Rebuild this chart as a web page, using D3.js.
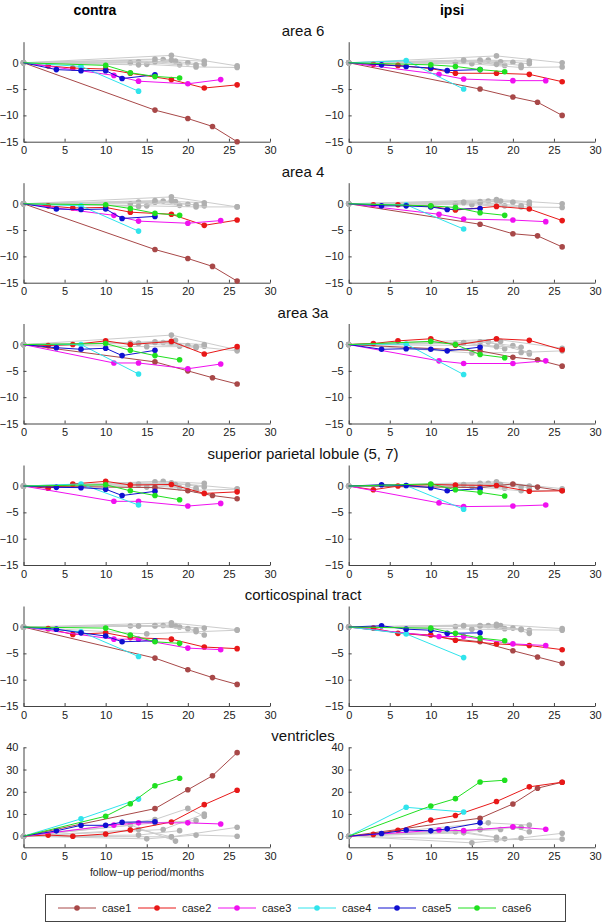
<!DOCTYPE html>
<html><head><meta charset="utf-8">
<script src="https://cdn.jsdelivr.net/npm/d3@7"></script>
<style>
html,body{margin:0;padding:0;background:#fff;}
svg{display:block;font-family:"Liberation Sans",Arial,sans-serif;}
</style></head>
<body>
<script>
// ---------- data ----------
const regions = ["area 6","area 4","area 3a","superior parietal lobule (5, 7)","corticospinal tract","ventricles"];
const sides = ["contra","ipsi"];
const caseNames = ["case1","case2","case3","case4","case5","case6"];
const caseMonths = [
  [0,16,20,23,26],
  [0,3,6,10,13,18,22,26],
  [0,11,14,20,24],
  [0,7,14],
  [0,4,7,10,12,16],
  [0,10,13,16,19]
];
const grayMonths = [[0,18,26],[0,17,22],[0,16,20,22],[0,14,19],[0,15,21,26],[0,13,18.5],[0,16,21],[0,14,18]];
const xTicks = [0,5,10,15,20,25,30];
const yTicksChange = [0,-5,-10,-15];
const yTicksVentricles = [0,10,20,30,40];

// case values per panel (case1..case6)
const area6_contra = [[0,-9,-10.6,-12.1,-15],[0,-0.6,-1,-1.2,-2,-3.2,-4.8,-4.2],[0,-2.4,-3.5,-4,-3.2],[0,-0.7,-5.4],[0,-1.3,-1.5,-1.5,-3,-2.3],[0,-0.5,-1.9,-2.6,-2.9]];
const area6_ipsi   = [[0,-5,-6.5,-7.5,-10],[0,-0.3,-0.5,-1.1,-2,-2,-2.2,-3.6],[0,-2.2,-3.1,-3.4,-3.4],[0,0.4,-5],[0,-0.4,-0.7,-1,-1.5,-1.3],[0,-0.4,-0.7,-1.3,-1.7]];
const area4_contra = [[0,-8.7,-10.4,-11.9,-14.7],[0,-0.4,-0.8,-0.7,-1.6,-2,-4.1,-3.1],[0,-2.2,-3.3,-3.7,-3.2],[0,-0.4,-5.2],[0,-1,-1.1,-1,-2.8,-2.4],[0,-0.2,-0.9,-1.8,-2.2]];
const area4_ipsi   = [[0,-3.9,-5.7,-6.1,-8.2],[0,-0.2,-0.2,-0.5,-1.2,-0.5,-1,-3.2],[0,-2,-2.9,-3.1,-3.4],[0,-0.2,-4.8],[0,-0.4,-0.4,-0.6,-1.1,-0.9],[0,-0.4,-0.7,-1.7,-2.2]];
const area3a_contra= [[0,-3.3,-5,-6.3,-7.5],[0,-0.2,0,0.7,0,0.6,-1.8,-0.4],[0,-3.5,-3.5,-4.6,-3.7],[0,0,-5.6],[0,-0.6,-0.9,-0.7,-2.1,-1.1],[0,0.2,-1.1,-2.1,-2.9]];
const area3a_ipsi  = [[0,-1.2,-2.4,-2.9,-4.1],[0,0.2,0.7,1.1,-0.1,1.1,0.8,-1],[0,-3.1,-3.6,-3.6,-3.1],[0,0.1,-5.7],[0,-0.9,-0.8,-0.9,-1.2,-0.5],[0,0.6,0,-1.9,-2.5]];
const spl_contra   = [[0,-0.3,-0.9,-1.8,-2.4],[0,-0.4,0.4,0.9,0.2,0.3,-1.4,-1.1],[0,-2.9,-2.9,-3.8,-3.3],[0,0.4,-3.6],[0,-0.25,-0.3,-0.6,-1.8,-1],[0,0.25,-0.9,-1.8,-2.6]];
const spl_ipsi     = [[0,-0.3,0.4,-0.2,-0.9],[0,-0.7,0,0.3,0.2,0.1,-1,-0.9],[0,-3.2,-3.9,-3.8,-3.6],[0,0.1,-4.4],[0,0.25,0.1,-0.3,-0.9,-0.5],[0,0.4,-0.7,-1.2,-1.9]];
const cst_contra   = [[0,-5.9,-8.1,-9.6,-10.9],[0,-0.3,-1.4,-1.1,-2,-2.3,-3.8,-4.1],[0,-2.3,-2.3,-4,-4.3],[0,-0.9,-5.6],[0,-0.4,-1.1,-1.7,-2.8,-2.6],[0,-0.2,-1.5,-2.8,-3.1]];
const cst_ipsi     = [[0,-2.8,-4.5,-5.7,-6.9],[0,-0.2,-1.2,-1.5,-2.5,-3.2,-3.5,-4.3],[0,-1.8,-1.8,-3.2,-3.5],[0,-1.3,-5.8],[0,0.25,-0.4,-0.6,-1.2,-1.1],[0,-0.2,-1.2,-2.1,-2.6]];
const vent_contra  = [[0,12.4,20.9,27.2,37.6],[0,0.5,0,1,2.8,6.4,14.2,20.7],[0,5,6,6,5.5],[0,7.8,16.7],[0,2.4,4.9,4.9,6.3,6.5],[0,9,14.6,22.7,26.1]];
const vent_ipsi    = [[0,8.1,14.5,21.6,24.3],[0,0.8,2.7,7.3,9.3,15.6,22.2,24.3],[0,2.8,2.5,4.2,3.1],[0,13,10.9],[0,1.2,2.8,2.4,3.3,6],[0,13.6,16.9,24.4,25.2]];

// other patients (gray) per panel
const area6_contra_gray = [[0,1.4,-0.6],[0,0.6,0.3],[0,0.7,0,-0.3],[0,0.2,-0.4],[0,-0.3,-0.8,-0.9],[0,0,0.3],[0,0.2,-0.4],[0,-0.4,0.5]];
const area6_ipsi_gray   = [[0,1.3,0],[0,0.5,0.3],[0,0.5,0.1,-0.2],[0,0.3,-0.5],[0,-0.2,-0.9,-0.8],[0,0.1,0.2],[0,0.3,-0.5],[0,0.5,-0.3]];
const area4_contra_gray = [[0,1.3,-0.6],[0,0.5,0.2],[0,0.6,-0.1,-0.4],[0,0.3,-0.3],[0,-0.4,-0.6,-0.6],[0,0,0.4],[0,0.3,-0.2],[0,-0.5,0.6]];
const area4_ipsi_gray   = [[0,0.8,0],[0,0.5,0.3],[0,0.4,0.3,-0.2],[0,0.2,-0.4],[0,-0.2,-0.6,-0.7],[0,0,0.5],[0,0.2,-0.4],[0,0.3,0.6]];
const area3a_contra_gray= [[0,1.8,-1],[0,0.4,0],[0,0.5,-0.2,-0.3],[0,0.2,-0.3],[0,-0.4,-0.4,-1.2],[0,0.3,0.8],[0,0.4,-0.6],[0,0.3,0.4]];
const area3a_ipsi_gray  = [[0,1,-0.7],[0,0.5,-1.5],[0,0.5,-0.2,-1.8],[0,0.3,-0.8],[0,-1.6,-1.5,-1.2],[0,0.2,0.6],[0,-0.2,-0.5],[0,0.4,-0.4]];
const spl_contra_gray   = [[0,0.6,-0.5],[0,0.9,0.5],[0,0.8,0.2,-0.2],[0,0.2,-0.3],[0,-0.2,-0.8,-0.6],[0,0.3,0.3],[0,0.3,-0.4],[0,0.4,0.5]];
const spl_ipsi_gray     = [[0,0.8,-0.5],[0,0.5,0],[0,0.5,0.3,-0.4],[0,0.2,-0.4],[0,-0.1,-0.9,-0.8],[0,0.1,0.3],[0,0.4,-0.2],[0,0.3,0.6]];
const cst_contra_gray   = [[0,0.8,-0.5],[0,0.3,-0.2],[0,0.3,-0.3,-1.5],[0,0.2,0],[0,-1.3,-0.9,-0.6],[0,0.2,0.2],[0,0.2,-0.5],[0,0.2,0.4]];
const cst_ipsi_gray     = [[0,0.5,-0.3],[0,0.3,-0.6],[0,0.3,-0.2,-1.2],[0,0.2,-0.3],[0,-0.4,-0.5,-0.6],[0,0.1,0.3],[0,0.2,-0.4],[0,0.3,0.2]];
const vent_contra_gray  = [[0,-0.3,4],[0,3,10],[0,7.5,12.5,9],[0,0.5,2.5],[0,-1.2,0.5,0],[0,5,-2.2],[0,6,7],[0,3,-0.3]];
const vent_ipsi_gray    = [[0,-1.6,-1.3],[0,6,5],[0,3,4,2],[0,1.5,-1.2],[0,-3,-0.8,1.3],[0,2,3],[0,3,4],[0,2,-0.5]];

const panelCases = [[area6_contra,area6_ipsi],[area4_contra,area4_ipsi],[area3a_contra,area3a_ipsi],[spl_contra,spl_ipsi],[cst_contra,cst_ipsi],[vent_contra,vent_ipsi]];
const panelGray  = [[area6_contra_gray,area6_ipsi_gray],[area4_contra_gray,area4_ipsi_gray],[area3a_contra_gray,area3a_ipsi_gray],[spl_contra_gray,spl_ipsi_gray],[cst_contra_gray,cst_ipsi_gray],[vent_contra_gray,vent_ipsi_gray]];

// ---------- styles / layout ----------
const caseColors = ["#a84848","#e81818","#f010f0","#30e4ec","#1010d0","#20e020"];
const grayLine = "#cccccc", grayDot = "#b0b0b0";
const W = 607, H = 923;
const colX = [[23.5,270],[348.7,595]];
const rowTop = [41.7,182.7,323.5,465,606,747.3];
const plotH = 100;

const svg = d3.select("body").append("svg").attr("width",W).attr("height",H);

// column titles
svg.append("text").attr("x",95).attr("y",15).attr("text-anchor","middle")
  .attr("font-size",14).attr("font-weight","bold").text(sides[0]);
svg.append("text").attr("x",452).attr("y",15).attr("text-anchor","middle")
  .attr("font-size",14).attr("font-weight","bold").text(sides[1]);

regions.forEach((reg,r)=>{
  svg.append("text").attr("x",303).attr("y",rowTop[r]-6).attr("text-anchor","middle")
    .attr("font-size",15).attr("fill","#111").text(reg);
  const isVent = r===5;
  const y = d3.scaleLinear().domain(isVent?[-5,40]:[-15,4]).range([rowTop[r]+plotH,rowTop[r]]);
  [0,1].forEach(c=>{
    const x = d3.scaleLinear().domain([0,30]).range(colX[c]);
    const g = svg.append("g");
    // axes
    const xa = g.append("g").attr("transform",`translate(0,${rowTop[r]+plotH})`)
      .call(d3.axisBottom(x).tickValues(xTicks).tickSizeInner(-3).tickSizeOuter(0).tickPadding(5).tickFormat(d3.format("d")));
    const ya = g.append("g").attr("transform",`translate(${colX[c][0]},0)`)
      .call(d3.axisLeft(y).tickValues(isVent?yTicksVentricles:yTicksChange).tickSizeInner(-3).tickSizeOuter(0).tickPadding(5));
    [xa,ya].forEach(a=>{
      a.select(".domain").attr("stroke","#444");
      a.selectAll(".tick line").attr("stroke","#444");
      a.selectAll(".tick text").attr("font-size",11).attr("fill","#222").attr("font-family","\"Liberation Sans\",Arial,sans-serif");
    });
    const line = d3.line().x(d=>x(d[0])).y(d=>y(d[1]));
    // gray others
    panelGray[r][c].forEach((vals,i)=>{
      const pts = grayMonths[i].map((m,k)=>[m,vals[k]]);
      g.append("path").attr("d",line(pts)).attr("fill","none").attr("stroke",grayLine).attr("stroke-width",1);
      g.selectAll(null).data(pts).enter().append("circle")
        .attr("cx",d=>x(d[0])).attr("cy",d=>y(d[1])).attr("r",2.8).attr("fill",grayDot);
    });
    // cases
    panelCases[r][c].forEach((vals,i)=>{
      const pts = caseMonths[i].map((m,k)=>[m,vals[k]]);
      g.append("path").attr("d",line(pts)).attr("fill","none").attr("stroke",caseColors[i]).attr("stroke-width",1);
      g.selectAll(null).data(pts.slice(1)).enter().append("circle")
        .attr("cx",d=>x(d[0])).attr("cy",d=>y(d[1])).attr("r",2.8).attr("fill",caseColors[i]);
    });
  });
});

// x label
svg.append("text").attr("x",147).attr("y",876).attr("text-anchor","middle")
  .attr("font-size",10.5).attr("fill","#222").text("follow\u2212up period/months");

// legend
const lg = svg.append("g");
lg.append("rect").attr("x",45.5).attr("y",894.5).attr("width",520).attr("height",27)
  .attr("fill","#fff").attr("stroke","#444").attr("stroke-width",1);
caseNames.forEach((nm,i)=>{
  const x0 = 58 + i*80;
  lg.append("line").attr("x1",x0).attr("x2",x0+38).attr("y1",908).attr("y2",908)
    .attr("stroke",caseColors[i]).attr("stroke-width",1);
  lg.append("circle").attr("cx",x0+19).attr("cy",908).attr("r",2.8).attr("fill",caseColors[i]);
  lg.append("text").attr("x",x0+44).attr("y",912).attr("font-size",11).attr("fill","#222").text(nm);
});
</script>
</body></html>
